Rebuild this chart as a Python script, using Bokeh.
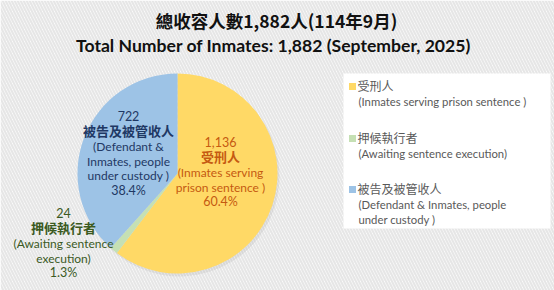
import numpy as np
from bokeh.plotting import figure
from bokeh.models import Range1d
from bokeh.core.properties import value
from bokeh.embed import file_html
from bokeh.resources import INLINE

# ---- data ----
title_zh = "總收容人數1,882人(114年9月)"
title_en = "Total Number of Inmates: 1,882 (September, 2025)"
categories_zh = ["受刑人", "押候執行者", "被告及被管收人"]
legend_en = [["(Inmates serving prison sentence )"],
             ["(Awaiting sentence execution)"],
             ["(Defendant & Inmates, people", "under custody )"]]
label_en = [["(Inmates serving", "prison sentence )"],
            ["(Awaiting sentence", "execution)"],
            ["(Defendant &", "Inmates, people", "under custody )"]]
counts = [1136, 24, 722]
count_labels = ["1,136", "24", "722"]
percent_labels = ["60.4%", "1.3%", "38.4%"]
colors = ["#FFD966", "#C5E0B4", "#9DC3E6"]
label_colors = ["#C55A11", "#3B5A1F", "#1F3864"]

W, H = 554, 290
p = figure(width=W, height=H, output_backend="svg", toolbar_location=None,
           x_range=Range1d(0, W), y_range=Range1d(0, H), min_border=0)
p.axis.visible = False
p.grid.visible = False
p.outline_line_color = None
p.background_fill_color = "white"
p.border_fill_color = "white"

def Y(py):
    return H - py

# striped background
p.quad(left=[0], right=[W], bottom=[0], top=[H], fill_color="white", line_color=None,
       hatch_pattern="left_diagonal_line", hatch_color="#e6e6e6", hatch_scale=6, hatch_weight=2.2)

# pie
cx, cy, r = 177, 173, 100
total = sum(counts)
fr = np.array(counts) / total
cum = np.concatenate([[0], np.cumsum(fr)])
starts = np.pi / 2 - cum[:-1] * 2 * np.pi
ends = np.pi / 2 - cum[1:] * 2 * np.pi
p.wedge(x=[cx + 2] * 3, y=[Y(cy) - 3] * 3, radius=r, start_angle=list(starts), end_angle=list(ends),
        direction="clock", fill_color="#000000", fill_alpha=0.06, line_color=None)
p.wedge(x=[cx] * 3, y=[Y(cy)] * 3, radius=r, start_angle=list(starts), end_angle=list(ends),
        direction="clock", fill_color=colors, line_color=None)

# titles
p.text(x=[276], y=[Y(20)], text=[title_zh], text_align="center", text_baseline="middle",
       text_font=value("Noto Sans CJK TC"), text_font_size="17.5px", text_font_style="bold", text_color="#111111")
p.text(x=[273], y=[Y(45)], text=[title_en], text_align="center", text_baseline="middle",
       text_font=value("Lato"), text_font_size="17.6px", text_font_style="bold", text_color="#111111")

# pie labels
label_pos = [(220, 141), (63, 212), (128, 115)]
for i in range(3):
    lx, ly = label_pos[i]
    c = label_colors[i]
    p.text(x=[lx], y=[Y(ly)], text=[count_labels[i]], text_align="center", text_baseline="middle",
           text_font=value("Lato"), text_font_size="12.5px", text_color=c)
    p.text(x=[lx], y=[Y(ly + 15)], text=[categories_zh[i]], text_align="center", text_baseline="middle",
           text_font=value("Noto Sans CJK TC"), text_font_size="13px", text_font_style="bold", text_color=c)
    yy = ly + 31
    for line in label_en[i]:
        p.text(x=[lx], y=[Y(yy)], text=[line], text_align="center", text_baseline="middle",
               text_font=value("Lato"), text_font_size="12px", text_color=c)
        yy += 14.5
    p.text(x=[lx], y=[Y(yy)], text=[percent_labels[i]], text_align="center", text_baseline="middle",
           text_font=value("Lato"), text_font_size="12.5px", text_color=c)

# legend box
p.quad(left=[343], right=[550], bottom=[Y(228)], top=[Y(73)], fill_color="white", line_color=None)
leg_y = [85, 137, 188]
for i in range(3):
    ly = leg_y[i]
    p.scatter(x=[352], y=[Y(ly + 1)], marker="square", size=7, fill_color=colors[i], line_color=None)
    p.text(x=[357], y=[Y(ly)], text=[categories_zh[i]], text_align="left", text_baseline="middle",
           text_font=value("Noto Sans CJK TC"), text_font_size="12px", text_color="#595959")
    yy = ly + 15.5
    for line in legend_en[i]:
        p.text(x=[358], y=[Y(yy)], text=[line], text_align="left", text_baseline="middle",
               text_font=value("Lato"), text_font_size="11.3px", text_color="#595959")
        yy += 15

open("out.html", "w").write(file_html(p, INLINE))
